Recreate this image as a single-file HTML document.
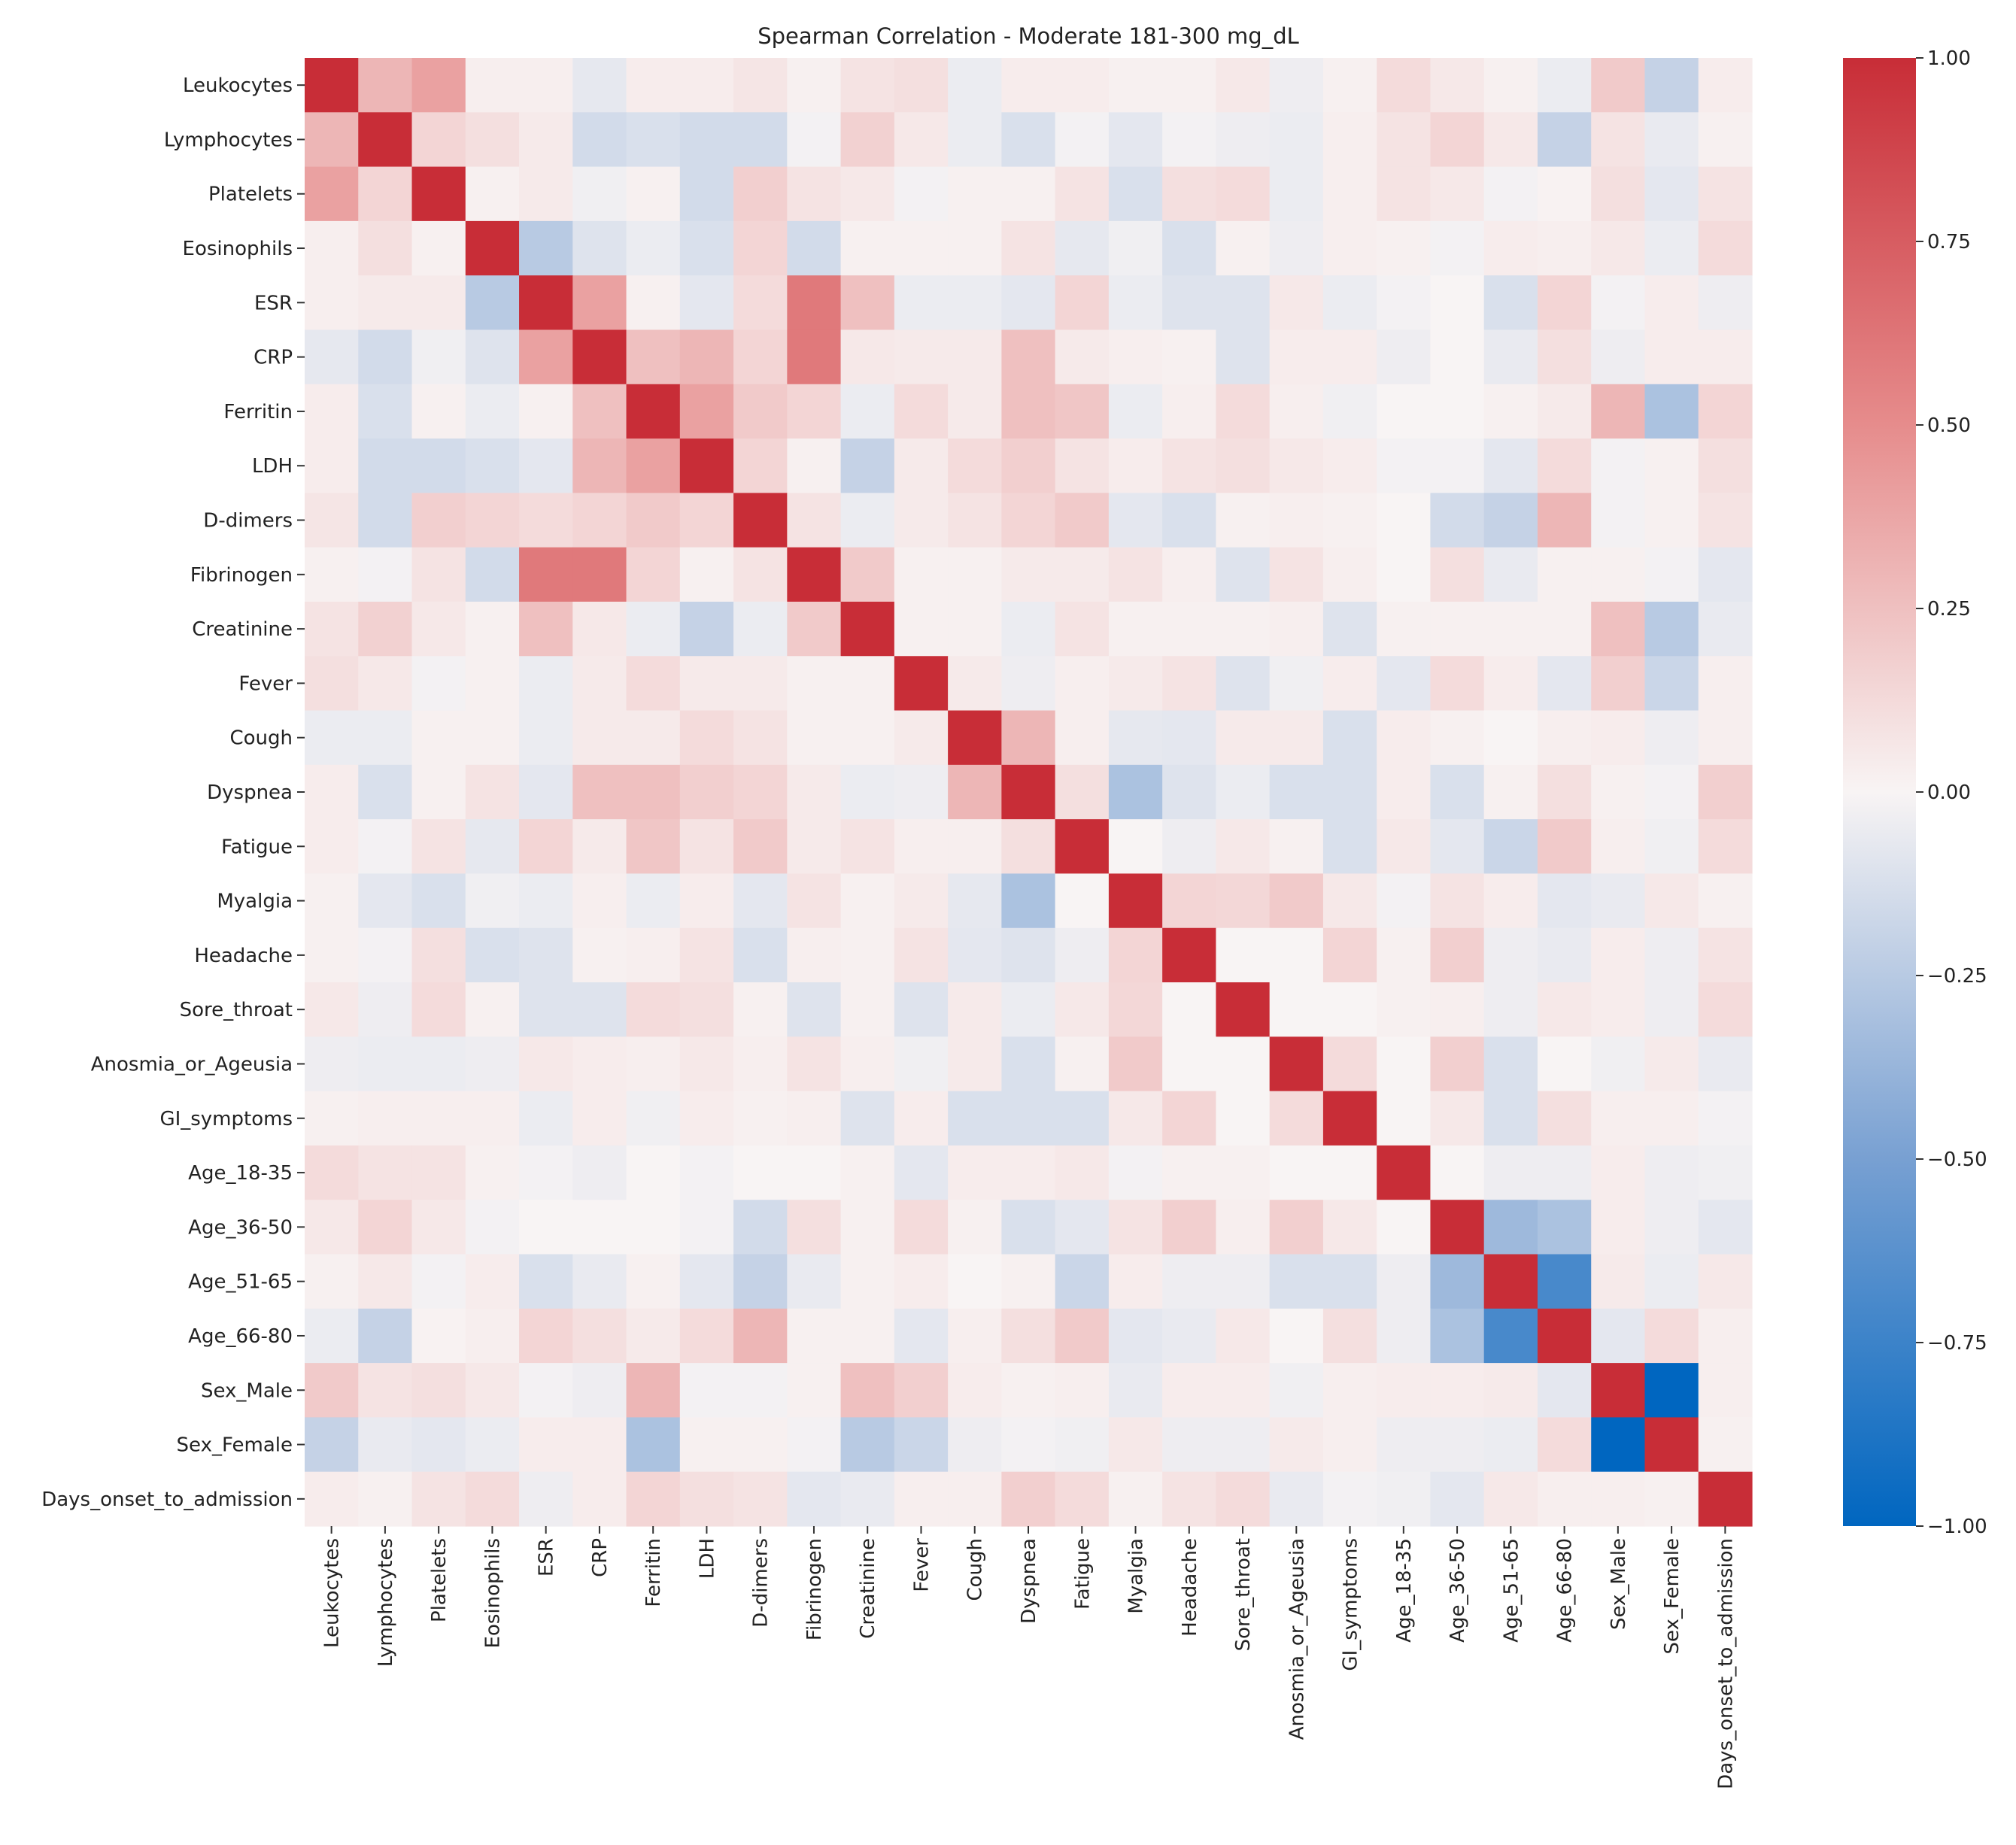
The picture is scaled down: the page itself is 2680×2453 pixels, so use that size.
<!DOCTYPE html>
<html><head><meta charset="utf-8"><style>
html,body{margin:0;padding:0;background:#fff;}
svg{display:block;font-family:"DejaVu Sans","Liberation Sans",sans-serif;}
</style></head><body>
<svg id="chart" width="2680" height="2453" viewBox="0 0 2680 2453" xmlns="http://www.w3.org/2000/svg">
<rect width="2680" height="2453" fill="#fff"/>
<text x="1367" y="58" font-size="29" text-anchor="middle" fill="#222">Spearman Correlation - Moderate 181-300 mg_dL</text>
<g id="cells"></g><g id="ylabels"></g><g id="xlabels"></g>
<defs><linearGradient id="cbgrad" x1="0" y1="0" x2="0" y2="1">
<stop offset="0" stop-color="rgb(200,45,55)"/><stop offset="0.25" stop-color="rgb(230,140,140)"/>
<stop offset="0.5" stop-color="rgb(248,244,244)"/><stop offset="0.75" stop-color="rgb(120,160,210)"/>
<stop offset="1" stop-color="rgb(0,102,192)"/></linearGradient></defs>
<rect x="2450" y="77" width="97" height="1952" fill="url(#cbgrad)"/>
<g id="cbticks"></g>
</svg>
<script>
const labels = ["Leukocytes","Lymphocytes","Platelets","Eosinophils","ESR","CRP","Ferritin","LDH","D-dimers","Fibrinogen","Creatinine","Fever","Cough","Dyspnea","Fatigue","Myalgia","Headache","Sore_throat","Anosmia_or_Ageusia","GI_symptoms","Age_18-35","Age_36-50","Age_51-65","Age_66-80","Sex_Male","Sex_Female","Days_onset_to_admission"];
const lower = [
[],
[0.3],
[0.4,0.15],
[0.03,0.1,0.02],
[0.03,0.05,0.05,-0.25],
[-0.07,-0.15,-0.03,-0.1,0.4],
[0.04,-0.12,0.02,-0.05,0.02,0.25],
[0.04,-0.15,-0.15,-0.12,-0.08,0.3,0.4],
[0.07,-0.15,0.18,0.15,0.12,0.15,0.2,0.15],
[0.02,-0.02,0.08,-0.15,0.6,0.6,0.15,0.02,0.08],
[0.08,0.17,0.06,0.02,0.25,0.06,-0.05,-0.2,-0.05,0.2],
[0.1,0.06,-0.02,0.02,-0.05,0.05,0.12,0.05,0.05,0.02,0.02],
[-0.05,-0.05,0.02,0.02,-0.05,0.05,0.05,0.12,0.08,0.02,0.02,0.05],
[0.04,-0.12,0.02,0.08,-0.08,0.25,0.25,0.18,0.15,0.05,-0.05,-0.04,0.3],
[0.04,-0.02,0.08,-0.07,0.15,0.05,0.22,0.08,0.2,0.05,0.08,0.03,0.03,0.1],
[0.02,-0.08,-0.12,-0.03,-0.05,0.03,-0.05,0.04,-0.08,0.08,0.02,0.05,-0.07,-0.3,0.0],
[0.02,-0.02,0.1,-0.12,-0.1,0.02,0.03,0.08,-0.12,0.03,0.02,0.08,-0.08,-0.1,-0.04,0.15],
[0.06,-0.04,0.12,0.02,-0.1,-0.1,0.12,0.1,0.02,-0.1,0.02,-0.1,0.05,-0.05,0.06,0.14,0.0],
[-0.04,-0.05,-0.05,-0.04,0.06,0.04,0.03,0.06,0.03,0.08,0.03,-0.03,0.05,-0.12,0.02,0.2,0.0,0.0],
[0.02,0.03,0.03,0.03,-0.05,0.04,-0.03,0.04,0.02,0.03,-0.1,0.04,-0.12,-0.12,-0.12,0.06,0.15,0.0,0.12],
[0.12,0.08,0.08,0.02,-0.02,-0.04,0.0,-0.02,0.0,0.0,0.02,-0.08,0.04,0.04,0.06,-0.02,0.02,0.02,0.0,0.0],
[0.06,0.15,0.06,-0.02,0.0,0.0,0.0,-0.02,-0.15,0.1,0.02,0.12,0.02,-0.12,-0.08,0.08,0.18,0.03,0.18,0.06,0.0],
[0.02,0.06,-0.02,0.04,-0.12,-0.06,0.02,-0.08,-0.2,-0.06,0.02,0.04,0.0,0.02,-0.18,0.04,-0.04,-0.04,-0.12,-0.12,-0.04,-0.35],
[-0.05,-0.2,0.01,0.03,0.15,0.1,0.05,0.12,0.3,0.02,0.02,-0.08,0.03,0.1,0.2,-0.08,-0.06,0.06,0.0,0.1,-0.04,-0.3,-0.7],
[0.2,0.08,0.1,0.06,-0.02,-0.04,0.3,-0.02,-0.02,0.02,0.25,0.18,0.04,0.02,0.03,-0.06,0.04,0.04,-0.03,0.03,0.04,0.04,0.05,-0.08],
[-0.2,-0.06,-0.08,-0.05,0.04,0.04,-0.3,0.02,0.02,-0.02,-0.25,-0.18,-0.04,-0.02,-0.03,0.06,-0.04,-0.04,0.05,0.03,-0.04,-0.04,-0.05,0.12,-1],
[0.04,0.02,0.08,0.12,-0.04,0.04,0.15,0.1,0.08,-0.08,-0.06,0.03,0.03,0.18,0.12,0.02,0.08,0.12,-0.06,-0.02,-0.03,-0.08,0.06,0.03,0.03,0.02]
];
const cbTicks = [1,0.75,0.5,0.25,0,-0.25,-0.5,-0.75,-1];

const NS="http://www.w3.org/2000/svg";
const X0=405,Y0=77,W=1924,H=1952,n=labels.length,cw=W/n,ch=H/n;
const xPos=j=>X0+j*cw, yPos=i=>Y0+i*ch;
const cbY=v=>Y0+(1-v)/2*H;
function val(i,j){if(i===j)return 1;return i>j?lower[i][j]:lower[j][i];}
const anchors=[[-1,[0,102,192]],[-0.5,[120,160,210]],[0,[248,244,244]],[0.5,[230,140,140]],[1,[200,45,55]]];
function color(v){for(let k=0;k<anchors.length-1;k++){const [a,ca]=anchors[k],[b,cb]=anchors[k+1];if(v<=b){const t=(v-a)/(b-a);return "rgb("+ca.map((c,m)=>Math.round(c+(cb[m]-c)*t)).join(",")+")";}}return "rgb(200,45,55)";}
function mk(tag,attrs,parent){const e=document.createElementNS(NS,tag);for(const k in attrs)e.setAttribute(k,attrs[k]);parent.appendChild(e);return e;}
const cells=document.getElementById('cells'),yl=document.getElementById('ylabels'),xl=document.getElementById('xlabels'),cbt=document.getElementById('cbticks');
for(let i=0;i<n;i++){for(let j=0;j<n;j++){
 const r=mk('rect',{x:xPos(j),y:yPos(i),width:cw+0.6,height:ch+0.6,fill:color(val(i,j))},cells);
 
 
}}
for(let i=0;i<n;i++){
 const cy=yPos(i)+ch/2;
 const t=mk('text',{x:X0-16,y:cy+9,'font-size':26,'text-anchor':'end',fill:'#222'},yl);t.textContent=labels[i];
 
 
 mk('line',{x1:X0-10,x2:X0,y1:cy,y2:cy,stroke:'#333','stroke-width':2},yl);
 const cx=xPos(i)+cw/2;
 mk('line',{x1:cx,x2:cx,y1:Y0+H,y2:Y0+H+10,stroke:'#333','stroke-width':2},xl);
 const tx=mk('text',{x:0,y:0,'font-size':26,'text-anchor':'end',fill:'#222',transform:'translate('+(cx+9)+','+(Y0+H+16)+') rotate(-90)'},xl);tx.textContent=labels[i];
 
 
}
cbTicks.forEach(v=>{const y=cbY(v);
 mk('line',{x1:2547,x2:2557,y1:y,y2:y,stroke:'#333','stroke-width':2},cbt);
 const t=mk('text',{x:2562,y:y+9,'font-size':26,fill:'#222'},cbt);t.textContent=(v<0?'\u2212':'')+Math.abs(v).toFixed(2);
 
 
});
</script>
</body></html>
